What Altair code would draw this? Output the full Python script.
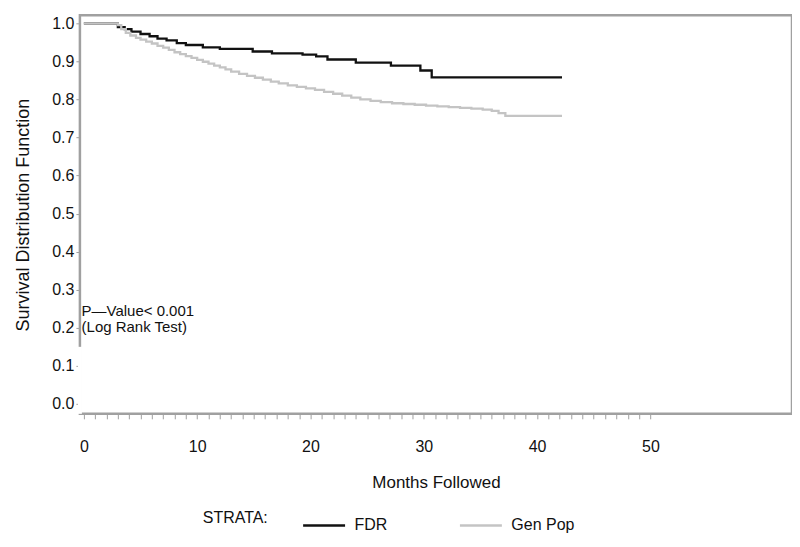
import altair as alt
import pandas as pd

# ---- data ----
fdr_months = [0, 3.0, 3.6, 4.2, 5.0, 5.8, 6.5, 7.3, 8.2, 9.0, 10.5, 12.0, 14.9, 16.6,
              19.3, 20.5, 21.5, 24.0, 27.1, 29.7, 30.7, 42.2]
fdr_surv = [1.0, 0.99, 0.985, 0.978, 0.972, 0.966, 0.96, 0.955, 0.948, 0.943, 0.937,
            0.933, 0.926, 0.921, 0.918, 0.913, 0.905, 0.897, 0.889, 0.876, 0.858, 0.858]

gen_months = [0, 3.0, 3.3, 3.7, 4.1, 4.6, 5.0, 5.5, 6.0, 6.5, 7.0, 7.5, 8.0, 8.5, 9.0,
              9.5, 10.0, 10.5, 11.0, 11.5, 12.0, 12.5, 13.0, 13.7, 14.4, 15.1, 15.8,
              16.5, 17.2, 18.0, 18.8, 19.6, 20.4, 21.2, 22.0, 22.8, 23.6, 24.4, 25.3,
              26.2, 27.2, 28.2, 29.2, 30.2, 31.2, 32.2, 33.2, 34.2, 35.2, 36.0, 36.6,
              37.2, 42.2]
gen_surv = [1.0, 0.995, 0.985, 0.975, 0.968, 0.962, 0.957, 0.952, 0.947, 0.941, 0.936,
            0.930, 0.924, 0.919, 0.914, 0.909, 0.904, 0.899, 0.894, 0.889, 0.884,
            0.879, 0.873, 0.867, 0.862, 0.857, 0.852, 0.847, 0.842, 0.837, 0.833,
            0.829, 0.825, 0.820, 0.815, 0.810, 0.805, 0.800, 0.796, 0.793, 0.790,
            0.788, 0.786, 0.784, 0.782, 0.780, 0.778, 0.776, 0.773, 0.770, 0.764,
            0.757, 0.757]

strata = ["FDR", "Gen Pop"]
strata_colors = ["#111111", "#c4c4c4"]

x_ticks = list(range(0, 51))
y_ticks = [round(i * 0.1, 1) for i in range(11)]

note_lines = ["P\u2014Value< 0.001", "(Log Rank Test)"]
note_y = [0.243, 0.203]
note_x = [-0.2, -0.2]

X_DOMAIN = [-0.35, 62.5]
Y_DOMAIN = [-0.026, 1.021]
LEFT_GAP = [-0.026, 0.15]   # stretch of the left frame that the reference leaves open

W, H = 713, 399
FONT = "Liberation Sans"
GRAY = "#a0a0a0"

rows = []
for t, s in zip(fdr_months, fdr_surv):
    rows.append({"months": t, "surv": s, "strata": "FDR"})
for t, s in zip(gen_months, gen_surv):
    rows.append({"months": t, "surv": s, "strata": "Gen Pop"})
df = pd.DataFrame(rows)

xscale = alt.Scale(domain=X_DOMAIN, nice=False, zero=False)
yscale = alt.Scale(domain=Y_DOMAIN, nice=False, zero=False)

x_axis = alt.Axis(
    values=x_ticks, tickCount=len(x_ticks) + 5, tickSize=5, tickColor=GRAY,
    tickWidth=1, domain=False, grid=False, labelOverlap=False,
    labelExpr="datum.value % 10 == 0 ? datum.label : ''",
    labelPadding=20, labelFontSize=16, labelFont=FONT, labelColor="#111",
    title="Months Followed", titleFontSize=17, titleFont=FONT,
    titleFontWeight="normal", titlePadding=20, titleColor="#111",
)
y_axis = alt.Axis(
    values=y_ticks, tickCount=len(y_ticks) + 5, format=".1f", tickSize=4,
    tickColor=GRAY, domain=False, grid=False, labelOverlap=False,
    labelPadding=2, labelFontSize=16, labelFont=FONT, labelColor="#111",
    title="Survival Distribution Function", titleFontSize=18, titleFont=FONT,
    titleFontWeight="normal", titlePadding=19, titleColor="#111",
)

lines = alt.Chart(df).mark_line(interpolate="step-after", strokeWidth=2.3).encode(
    x=alt.X("months:Q", scale=xscale, axis=x_axis),
    y=alt.Y("surv:Q", scale=yscale, axis=y_axis),
    color=alt.Color(
        "strata:N",
        scale=alt.Scale(domain=strata, range=strata_colors),
        legend=alt.Legend(
            title="STRATA:", orient="none", legendX=123, legendY=488,
            direction="horizontal", titleOrient="left", titlePadding=33,
            titleFont=FONT, titleFontSize=16, titleFontWeight="normal",
            titleColor="#111", titleBaseline="middle",
            symbolType="stroke", symbolSize=1764, symbolStrokeWidth=2.5,
            labelFont=FONT, labelFontSize=16, labelColor="#111", labelOffset=8,
            columnPadding=67,
        ),
    ),
)

notes_df = pd.DataFrame({"x": note_x, "y": note_y, "t": note_lines})
notes = alt.Chart(notes_df).mark_text(
    align="left", baseline="middle", font=FONT, fontSize=15, color="#111"
).encode(x=alt.X("x:Q", scale=xscale), y=alt.Y("y:Q", scale=yscale), text="t:N")

gap_df = pd.DataFrame({"y0": [LEFT_GAP[0]], "y1": [LEFT_GAP[1]]})
gap_rule = alt.Chart(gap_df).mark_rule(color="white", strokeWidth=4).encode(
    x=alt.value(0), y=alt.Y("y0:Q", scale=yscale), y2="y1:Q")

chart = alt.layer(gap_rule, lines, notes).properties(
    width=W, height=H,
    background="white",
    autosize=alt.AutoSizeParams(type="none"),
    padding={"left": 72, "top": 7, "right": 0, "bottom": 125},
).configure_view(stroke=GRAY, strokeWidth=2.5)

chart.save("out.html", embed_options={"renderer": "svg", "actions": False})
